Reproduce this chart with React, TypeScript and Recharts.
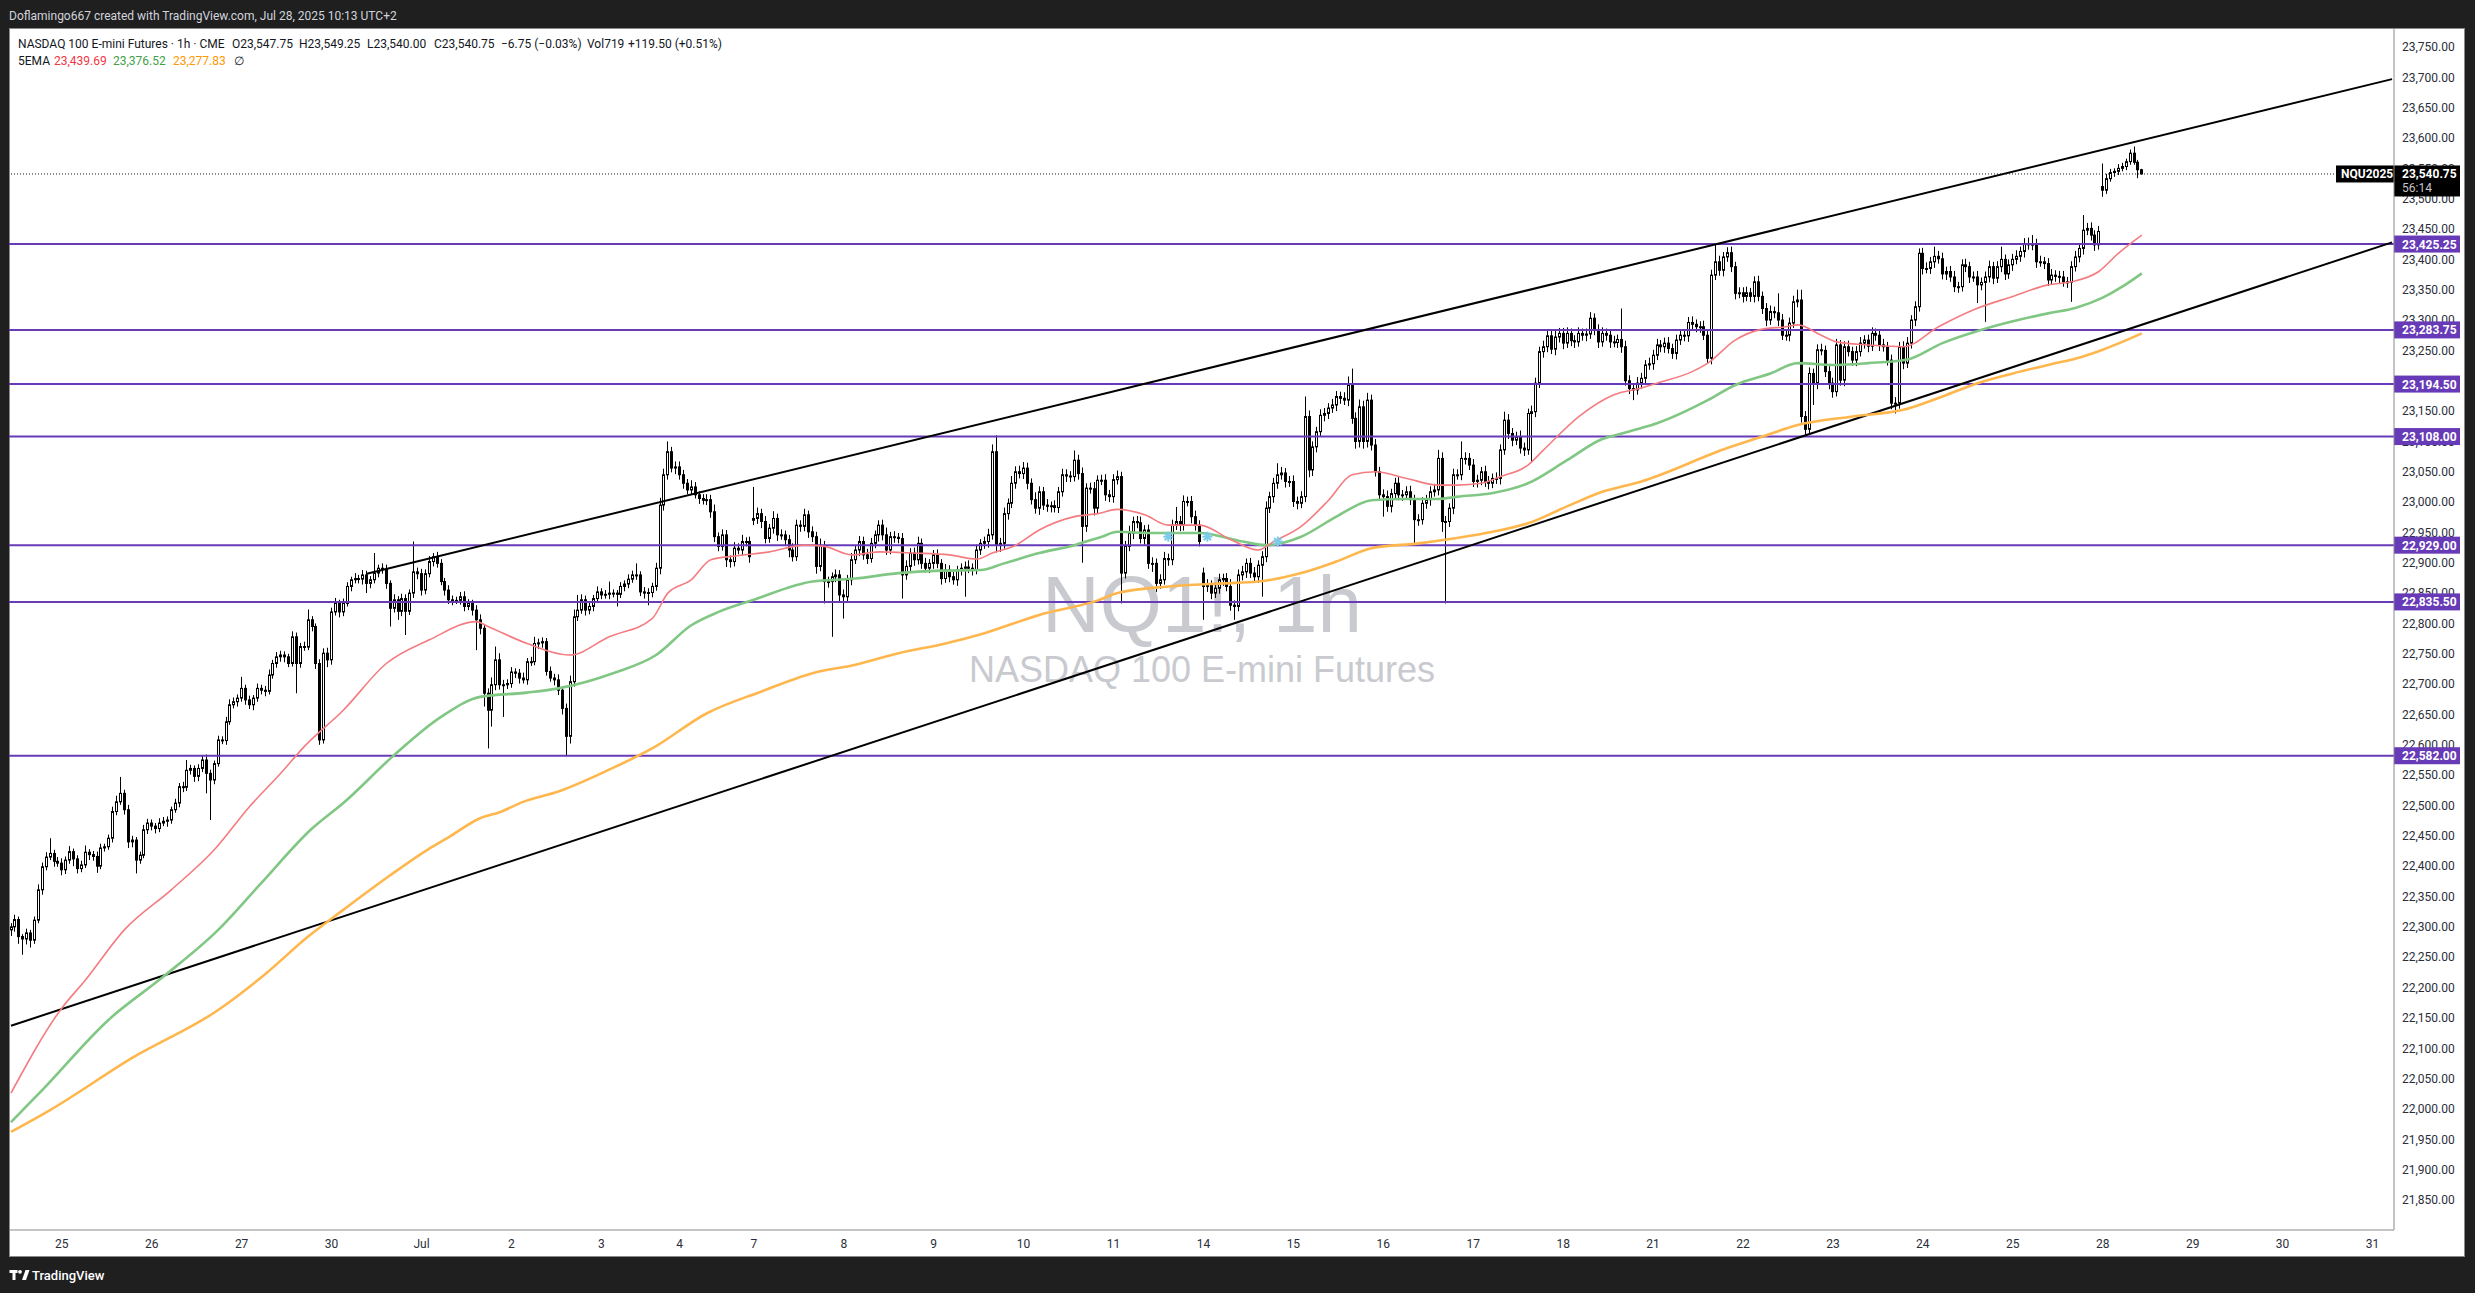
import React from 'react';
import { ComposedChart, Bar, Line, XAxis, YAxis, ReferenceLine } from 'recharts';

const W = 2475;
const H = 1293;
const SLOTS = 610;
const PURPLE = '#673ab7';

// trading-day labels on the time axis and the bar index where each day starts
const DAY_LABELS = ['25', '26', '27', '30', 'Jul', '2', '3', '4', '7', '8', '9', '10', '11', '14', '15', '16', '17', '18', '21', '22', '23', '24', '25', '28', '29', '30', '31'];
const DAY_START = [13, 36, 59, 82, 105, 128, 151, 171, 190, 213, 236, 259, 282, 305, 328, 351, 374, 397, 420, 443, 466, 489, 512, 535, 558, 581, 604];

const Y_TICKS = [21850, 21900, 21950, 22000, 22050, 22100, 22150, 22200, 22250, 22300, 22350, 22400, 22450, 22500, 22550, 22600, 22650, 22700, 22750, 22800, 22850, 22900, 22950, 23000, 23050, 23100, 23150, 23200, 23250, 23300, 23350, 23400, 23450, 23500, 23550, 23600, 23650, 23700, 23750];

// hourly closes, one line per session
const CLOSE: number[] = [
  22300, 22312, 22284, 22280, 22290, 22278, 22311, 22361, 22399, 22415, 22421, 22408, 22405,
  22394, 22410, 22424, 22412, 22396, 22402, 22423, 22419, 22416, 22400, 22430, 22432, 22446, 22490, 22506, 22520, 22493, 22440, 22443, 22410, 22418, 22460, 22471,
  22466, 22462, 22471, 22474, 22476, 22493, 22504, 22531, 22530, 22558, 22561, 22548, 22561, 22575, 22553, 22542, 22569, 22608, 22607, 22638, 22666, 22671, 22677,
  22693, 22674, 22666, 22677, 22693, 22690, 22688, 22715, 22734, 22745, 22748, 22745, 22734, 22778, 22734, 22762, 22761, 22806, 22795, 22734, 22608, 22751, 22740,
  22819, 22833, 22819, 22833, 22861, 22872, 22874, 22873, 22880, 22866, 22872, 22883, 22891, 22890, 22866, 22825, 22839, 22820, 22841, 22820, 22850, 22885, 22882,
  22855, 22882, 22902, 22910, 22899, 22869, 22855, 22839, 22838, 22838, 22844, 22828, 22833, 22822, 22806, 22792, 22685, 22657, 22699, 22740, 22699, 22699, 22701,
  22720, 22718, 22710, 22707, 22737, 22737, 22767, 22768, 22770, 22721, 22710, 22707, 22690, 22660, 22614, 22704, 22811, 22822, 22839, 22822, 22828, 22841, 22852,
  22847, 22848, 22850, 22850, 22848, 22861, 22865, 22873, 22880, 22880, 22852, 22850, 22851, 22861, 22891, 22995, 23045, 23083, 23056, 23058,
  23045, 23031, 23020, 23025, 23012, 23006, 23003, 23004, 22984, 22943, 22927, 22946, 22905, 22902, 22924, 22921, 22935, 22935, 22910,
  22973, 22981, 22968, 22940, 22957, 22973, 22946, 22946, 22938, 22921, 22910, 22962, 22960, 22979, 22951, 22943, 22894, 22927, 22869, 22869, 22877, 22880, 22847,
  22844, 22872, 22905, 22921, 22935, 22913, 22907, 22932, 22946, 22962, 22946, 22921, 22943, 22942, 22940, 22880, 22894, 22916, 22905, 22932, 22899, 22891, 22899,
  22913, 22899, 22874, 22888, 22877, 22872, 22888, 22891, 22893, 22891, 22888, 22921, 22932, 22935, 22946, 23083, 22929, 22932, 22981, 22998, 23031, 23050, 23047,
  23056, 23031, 23004, 22990, 23017, 22995, 22993, 22994, 22991, 23017, 23045, 23043, 23042, 23069, 23047, 22960, 23023, 23022, 22990, 23036, 23036, 23012, 23009,
  23037, 23042, 22883, 22927, 22949, 22968, 22966, 22940, 22954, 22899, 22899, 22866, 22872, 22907, 22905, 22962, 22968, 22962, 23001, 23001, 22976, 22962, 22935,
  22861, 22863, 22850, 22858, 22872, 22874, 22861, 22830, 22828, 22880, 22885, 22899, 22883, 22877, 22896, 22910, 22990, 23009, 23031, 23045, 23048, 23034, 23034,
  23001, 22998, 23009, 23141, 23053, 23091, 23116, 23143, 23146, 23155, 23160, 23174, 23171, 23168, 23193, 23138, 23100, 23157, 23100, 23168, 23094, 23050, 23012,
  23009, 22993, 23014, 23031, 23012, 23012, 23017, 23004, 22971, 22971, 22998, 23004, 23017, 23020, 23072, 22968, 22968, 22990, 23045, 23045, 23072, 23072, 23061,
  23034, 23036, 23050, 23034, 23031, 23039, 23039, 23086, 23135, 23113, 23102, 23108, 23089, 23086, 23146, 23149, 23196, 23248, 23256, 23274, 23252, 23272, 23278,
  23262, 23278, 23266, 23264, 23278, 23275, 23277, 23303, 23284, 23264, 23278, 23275, 23264, 23263, 23268, 23256, 23200, 23187, 23185, 23196, 23204, 23226, 23228,
  23242, 23259, 23256, 23262, 23253, 23245, 23267, 23275, 23274, 23296, 23293, 23289, 23289, 23275, 23237, 23374, 23396, 23382, 23404, 23411, 23388, 23344, 23345,
  23339, 23345, 23339, 23363, 23339, 23319, 23300, 23314, 23312, 23300, 23275, 23275, 23295, 23330, 23333, 23141, 23120, 23212, 23196, 23251, 23250, 23215, 23196,
  23182, 23259, 23201, 23256, 23248, 23234, 23248, 23262, 23267, 23257, 23278, 23275, 23259, 23256, 23234, 23163, 23163, 23256, 23229, 23262, 23300, 23322, 23410,
  23385, 23385, 23396, 23405, 23401, 23376, 23380, 23371, 23355, 23355, 23391, 23388, 23371, 23371, 23358, 23362, 23371, 23388, 23369, 23388, 23400, 23376, 23391,
  23400, 23405, 23413, 23426, 23424, 23425, 23396, 23396, 23393, 23366, 23374, 23372, 23371, 23363, 23362, 23388, 23404, 23418, 23448, 23451, 23440, 23424, 23446,
  23514, 23533, 23543, 23545, 23550, 23553, 23561, 23575, 23560, 23547.75, 23540.75,
];

// upper wick (points above the body) per bar
const WICK_UP: number[] = [
  6, 8, 5, 4, 7, 5, 6, 9, 7, 8, 25, 6, 7,
  8, 6, 9, 5, 6, 7, 11, 5, 6, 8, 7, 5, 6, 8, 10, 27, 6, 8, 7, 5, 6, 8, 7,
  6, 5, 8, 7, 6, 5, 7, 6, 8, 17, 6, 5, 7, 8, 9, 6, 5, 7, 6, 8, 9, 7, 6,
  19, 6, 7, 5, 8, 6, 7, 9, 6, 8, 7, 6, 5, 9, 7, 6, 8, 17, 6, 5, 7, 8, 9,
  7, 9, 6, 8, 7, 5, 9, 6, 8, 7, 6, 33, 6, 8, 7, 5, 9, 6, 8, 7, 6, 50, 7,
  8, 7, 9, 6, 8, 7, 6, 8, 7, 6, 8, 9, 7, 6, 8, 9, 7, 8, 12, 22, 11, 8, 7,
  8, 6, 7, 9, 6, 8, 11, 7, 7, 6, 8, 7, 9, 6, 8, 10, 12, 25, 9, 7, 8, 6, 9,
  6, 7, 19, 6, 5, 7, 6, 8, 7, 19, 6, 8, 7, 6, 9, 12, 10, 17, 8, 9,
  9, 8, 7, 11, 8, 6, 7, 9, 8, 12, 7, 9, 8, 7, 10, 8, 11, 7, 8,
  52, 10, 8, 9, 7, 12, 8, 9, 7, 8, 11, 9, 8, 10, 7, 9, 8, 13, 9, 8, 7, 9, 8,
  9, 8, 11, 7, 9, 8, 10, 9, 7, 8, 9, 12, 8, 9, 7, 9, 10, 8, 9, 11, 8, 9, 7,
  8, 9, 7, 10, 8, 9, 7, 8, 9, 11, 8, 9, 7, 8, 10, 12, 27, 9, 10, 8, 12, 9, 10,
  10, 9, 8, 12, 9, 8, 10, 7, 9, 8, 10, 9, 8, 16, 9, 10, 8, 9, 11, 8, 9, 10, 8,
  9, 10, 8, 9, 12, 8, 9, 10, 8, 9, 10, 8, 9, 11, 8, 9, 24, 9, 10, 8, 9, 10, 8,
  9, 10, 8, 9, 10, 8, 9, 12, 8, 9, 10, 8, 9, 10, 8, 9, 11, 8, 9, 19, 10, 8, 9,
  10, 8, 9, 33, 10, 9, 8, 10, 9, 8, 10, 9, 8, 10, 14, 27, 10, 12, 10, 12, 9, 10, 8,
  9, 10, 8, 9, 10, 8, 9, 10, 8, 9, 10, 8, 9, 10, 14, 10, 9, 8, 10, 9, 28, 10, 9,
  10, 9, 8, 10, 9, 8, 10, 9, 14, 10, 9, 8, 10, 9, 8, 10, 9, 8, 10, 9, 8, 10, 9,
  9, 10, 8, 9, 10, 8, 9, 10, 8, 9, 10, 8, 9, 10, 8, 51, 10, 9, 8, 10, 9, 8, 10,
  9, 10, 8, 9, 10, 8, 9, 10, 8, 9, 10, 8, 9, 10, 8, 9, 30, 10, 8, 9, 10, 8, 9,
  9, 10, 8, 9, 10, 8, 9, 10, 8, 32, 10, 8, 9, 10, 17, 17, 9, 10, 8, 9, 10, 8, 9,
  9, 10, 8, 9, 10, 8, 9, 10, 8, 9, 10, 8, 9, 10, 8, 9, 10, 8, 9, 10, 8, 9, 8,
  9, 10, 8, 16, 9, 10, 8, 9, 10, 8, 9, 10, 8, 9, 10, 8, 9, 10, 8, 9, 21, 8, 9,
  9, 10, 8, 9, 10, 15, 9, 10, 8, 9, 10, 8, 9, 10, 8, 9, 10, 8, 25, 9, 10, 8, 9,
  38, 8, 6, 5, 7, 6, 5, 6, 11, 4, 1.5,
];

// lower wick (points below the body) per bar
const WICK_DN: number[] = [
  10, 8, 12, 26, 9, 12, 6, 5, 8, 6, 5, 9, 6,
  9, 7, 6, 12, 8, 6, 5, 9, 7, 11, 5, 6, 5, 7, 6, 5, 8, 10, 9, 22, 6, 5, 7,
  7, 8, 6, 5, 9, 6, 5, 7, 8, 6, 7, 9, 8, 6, 33, 66, 7, 5, 6, 7, 5, 6, 8,
  6, 8, 7, 9, 6, 7, 8, 5, 6, 7, 8, 9, 6, 5, 49, 7, 6, 5, 8, 9, 8, 6, 12,
  8, 6, 9, 7, 5, 8, 6, 7, 9, 16, 8, 6, 7, 8, 9, 30, 7, 14, 8, 39, 6, 8, 9,
  9, 7, 6, 8, 7, 6, 9, 7, 8, 6, 7, 8, 6, 9, 50, 10, 22, 63, 27, 9, 8, 53, 7,
  7, 8, 9, 6, 8, 7, 6, 9, 8, 7, 6, 9, 8, 10, 33, 12, 8, 7, 6, 9, 7, 8, 6,
  7, 6, 8, 7, 20, 6, 8, 7, 6, 8, 7, 9, 20, 8, 7, 10, 9, 8, 7, 10,
  8, 9, 7, 8, 6, 9, 7, 8, 10, 9, 8, 7, 12, 10, 8, 7, 9, 8, 10,
  8, 9, 11, 8, 7, 9, 10, 8, 9, 12, 8, 7, 9, 8, 10, 9, 12, 8, 36, 10, 91, 9, 10,
  36, 8, 9, 7, 10, 8, 9, 7, 8, 11, 9, 8, 7, 9, 8, 39, 8, 9, 10, 8, 9, 7, 8,
  9, 8, 10, 7, 9, 8, 10, 9, 47, 8, 9, 7, 8, 9, 10, 8, 12, 11, 9, 10, 8, 9, 8,
  9, 10, 8, 9, 11, 8, 9, 10, 8, 9, 8, 10, 9, 8, 10, 60, 9, 8, 12, 9, 8, 10, 9,
  10, 8, 50, 9, 8, 10, 9, 8, 10, 9, 14, 14, 9, 8, 10, 9, 8, 10, 9, 8, 11, 9, 8,
  55, 9, 10, 8, 9, 10, 8, 9, 22, 8, 9, 10, 8, 9, 10, 52, 9, 8, 10, 9, 8, 10, 9,
  9, 10, 8, 9, 12, 10, 9, 8, 10, 9, 8, 10, 9, 8, 10, 9, 12, 10, 12, 10, 9, 8, 10,
  33, 9, 10, 8, 9, 10, 8, 9, 42, 10, 8, 9, 10, 8, 9, 17, 135, 9, 10, 8, 9, 10, 8,
  9, 10, 8, 9, 10, 8, 9, 10, 8, 9, 10, 8, 9, 10, 8, 79, 9, 8, 10, 9, 8, 10, 9,
  10, 8, 9, 10, 8, 9, 10, 8, 9, 10, 8, 9, 10, 8, 9, 10, 8, 9, 17, 8, 9, 10, 8,
  10, 8, 9, 10, 8, 9, 10, 8, 9, 10, 8, 9, 10, 8, 9, 10, 8, 9, 10, 8, 9, 10, 8,
  10, 8, 9, 10, 8, 9, 10, 8, 9, 10, 8, 9, 10, 8, 9, 10, 10, 9, 36, 10, 8, 9, 10,
  10, 8, 9, 10, 8, 9, 10, 8, 9, 10, 8, 9, 10, 8, 9, 10, 17, 9, 10, 8, 9, 10, 8,
  10, 8, 9, 10, 8, 9, 10, 8, 9, 10, 8, 9, 10, 8, 30, 9, 65, 9, 10, 8, 9, 10, 8,
  10, 8, 9, 10, 8, 9, 10, 8, 9, 10, 8, 9, 10, 8, 9, 32, 8, 9, 10, 8, 9, 10, 8,
  11, 6, 5, 7, 6, 5, 6, 5, 4, 14, 0.75,
];

// session opens that gap away from the previous close
const OPEN_GAPS: [number, number][] = [[0, 22295], [190, 22970], [305, 22883], [535, 23520]];

// EMA lines: [bar, value]
const EMA_FAST: [number, number][] = [[0, 22026], [13, 22166], [19, 22212], [29, 22295], [41, 22361], [52, 22427], [61, 22498], [69, 22553], [75, 22597], [85, 22657], [96, 22734], [107, 22773], [119, 22803], [122, 22795], [132, 22767], [143, 22748], [153, 22778], [164, 22808], [168, 22850], [174, 22872], [179, 22905], [185, 22911], [194, 22918], [203, 22929], [208, 22927], [215, 22913], [222, 22918], [231, 22916], [240, 22913], [247, 22906], [251, 22916], [257, 22929], [263, 22954], [272, 22976], [278, 22981], [283, 22988], [290, 22979], [296, 22962], [304, 22962], [312, 22938], [319, 22921], [323, 22935], [330, 22960], [337, 23003], [343, 23045], [349, 23050], [357, 23039], [365, 23028], [370, 23028], [376, 23031], [381, 23042], [388, 23061], [392, 23086], [401, 23141], [410, 23177], [417, 23188], [421, 23196], [430, 23215], [434, 23229], [441, 23267], [448, 23285], [454, 23289], [457, 23292], [463, 23275], [467, 23264], [475, 23259], [484, 23256], [493, 23289], [502, 23317], [512, 23339], [521, 23358], [527, 23363], [534, 23380], [539, 23410], [545, 23440]];
const EMA_MID: [number, number][] = [[0, 21978], [3, 21998], [8, 22031], [25, 22147], [39, 22218], [53, 22295], [64, 22372], [77, 22462], [85, 22504], [98, 22583], [110, 22646], [120, 22679], [132, 22686], [140, 22693], [154, 22718], [165, 22748], [174, 22797], [181, 22819], [190, 22839], [205, 22869], [216, 22874], [227, 22883], [238, 22887], [248, 22888], [254, 22899], [263, 22916], [272, 22929], [279, 22943], [283, 22951], [292, 22949], [304, 22949], [315, 22935], [321, 22929], [330, 22943], [339, 22976], [348, 23003], [356, 23005], [365, 23005], [370, 23009], [379, 23015], [388, 23031], [398, 23069], [407, 23104], [412, 23113], [417, 23122], [421, 23130], [434, 23168], [441, 23193], [450, 23212], [457, 23229], [466, 23226], [475, 23229], [485, 23235], [494, 23262], [503, 23282], [512, 23298], [521, 23311], [528, 23320], [535, 23337], [540, 23355], [545, 23377]];
const EMA_SLOW: [number, number][] = [[0, 21962], [10, 21998], [31, 22084], [53, 22163], [65, 22222], [76, 22284], [85, 22328], [97, 22385], [107, 22429], [112, 22448], [120, 22479], [125, 22489], [131, 22506], [140, 22523], [153, 22559], [164, 22594], [178, 22652], [192, 22688], [205, 22718], [216, 22732], [227, 22751], [239, 22767], [249, 22784], [263, 22814], [278, 22838], [283, 22850], [296, 22861], [310, 22866], [319, 22869], [330, 22883], [339, 22902], [348, 22924], [360, 22932], [369, 22940], [379, 22951], [388, 22965], [398, 22993], [407, 23017], [417, 23034], [439, 23089], [448, 23108], [457, 23127], [471, 23141], [484, 23152], [494, 23174], [503, 23196], [512, 23212], [521, 23226], [530, 23240], [535, 23251], [545, 23278]];

const CROSS_MARKS: [number, number][] = [[296, 22943], [306, 22943], [324, 22935]];

const LEVELS = [23425.25, 23283.75, 23194.5, 23108, 22929, 22835.5, 22582];
const LAST_PRICE = 23540.75;
const UPPER_LINE: [number, number][] = [[91, 22882], [609, 23697]];
const LOWER_LINE: [number, number][] = [[0, 22137], [609, 23428]];

const fmt = (v: number) => v.toLocaleString('en-US', { minimumFractionDigits: 2, maximumFractionDigits: 2 });
const UI_FONT = 'Roboto, "Noto Sans", sans-serif';

function buildRows() {
  const gaps = new Map(OPEN_GAPS);
  const rows: any[] = [];
  for (let i = 0; i < SLOTS; i++) rows.push({ i });
  for (let i = 0; i < CLOSE.length; i++) {
    const c = CLOSE[i];
    const o = gaps.has(i) ? (gaps.get(i) as number) : CLOSE[i - 1];
    const h = Math.max(o, c) + (WICK_UP[i] ?? 0);
    const l = Math.min(o, c) - (WICK_DN[i] ?? 0);
    Object.assign(rows[i], { o, h, l, c, range: [l, h] });
  }
  EMA_FAST.forEach(([b, v]) => { rows[b].fast = v; });
  EMA_MID.forEach(([b, v]) => { rows[b].mid = v; });
  EMA_SLOW.forEach(([b, v]) => { rows[b].slow = v; });
  CROSS_MARKS.forEach(([b, v]) => { rows[b].cross = v; });
  return rows;
}

const Candle = (props: any) => {
  const { x, y, width, height, payload } = props;
  if (!payload || payload.o == null || x == null) return <g />;
  const { o, h, l, c } = payload;
  const top = Math.min(y, y + height);
  const hh = Math.abs(height);
  const k = h - l > 0 ? hh / (h - l) : 0;
  const yO = top + (h - o) * k;
  const yC = top + (h - c) * k;
  const cx = Math.round(x + width / 2) + 0.5;
  const bTop = Math.min(yO, yC);
  const bH = Math.max(Math.abs(yO - yC), 1);
  const up = c >= o;
  return (
    <g>
      <line x1={cx} x2={cx} y1={top} y2={top + hh} stroke="#000" strokeWidth={1} />
      <rect x={cx - 1} y={bTop} width={2} height={bH} fill={up ? '#fff' : '#000'} stroke="#000" strokeWidth={1} />
    </g>
  );
};

const CrossDot = (props: any) => {
  const { cx, cy, payload } = props;
  if (cx == null || cy == null || payload == null || payload.cross == null) return <g />;
  const r = 5;
  const d = 3.6;
  return (
    <g stroke="#7ccbea" strokeWidth={2}>
      <line x1={cx - r} x2={cx + r} y1={cy} y2={cy} />
      <line x1={cx} x2={cx} y1={cy - r} y2={cy + r} />
      <line x1={cx - d} x2={cx + d} y1={cy - d} y2={cy + d} />
      <line x1={cx - d} x2={cx + d} y1={cy + d} y2={cy - d} />
    </g>
  );
};

// price-scale tick text, drawn in the same layer as the tags so the tags cover it
const TickLabel = (props: any) => {
  const vb = props.viewBox || {};
  const x = (vb.x || 0) + (vb.width || 0);
  const y = vb.y || 0;
  return (
    <text x={x + 8} y={y + 4.3} fill="#2a2e39" fontSize={12} fontFamily={UI_FONT}>{fmt(props.value)}</text>
  );
};

const LevelTag = (props: any) => {
  const vb = props.viewBox || {};
  const x = (vb.x || 0) + (vb.width || 0);
  const y = vb.y || 0;
  return (
    <g>
      <rect x={x} y={y - 8.5} width={66} height={17} fill={PURPLE} />
      <text x={x + 8} y={y + 4.5} fill="#fff" fontSize={12} fontWeight={700} fontFamily={UI_FONT}>{fmt(props.value)}</text>
    </g>
  );
};

const PriceTag = (props: any) => {
  const vb = props.viewBox || {};
  const x = (vb.x || 0) + (vb.width || 0);
  const y = vb.y || 0;
  return (
    <g>
      <rect x={x - 58} y={y - 8.5} width={58} height={17} fill="#000" />
      <text x={x - 53} y={y + 4.5} fill="#fff" fontSize={12} fontWeight={700} fontFamily={UI_FONT}>NQU2025</text>
      <rect x={x} y={y - 8.5} width={66} height={31} fill="#000" />
      <text x={x + 8} y={y + 4.5} fill="#fff" fontSize={12} fontWeight={700} fontFamily={UI_FONT}>{fmt(LAST_PRICE)}</text>
      <text x={x + 8} y={y + 18.5} fill="#c4c4c4" fontSize={12} fontFamily={UI_FONT}>56:14</text>
    </g>
  );
};

export default function App() {
  const rows = buildRows();
  const labelOf = new Map(DAY_START.map((b, k) => [b, DAY_LABELS[k]]));
  return (
    <div style={{ position: 'absolute', left: 0, top: 0, width: W, height: H, background: '#1f1f1f', overflow: 'hidden' }}>
      <svg width={W} height={H} style={{ position: 'absolute', left: 0, top: 0 }}>
        <rect x={9.5} y={28.5} width={2455} height={1228} fill="#fff" stroke="#8a8a8a" strokeWidth={1} />
        <text x={1202} y={632} textAnchor="middle" fontSize={80} fill="#c9cacf" fontFamily='"Liberation Sans", Arial, sans-serif'>NQ1!, 1h</text>
        <text x={1202} y={682} textAnchor="middle" fontSize={36} fill="#c9cacf" fontFamily='"Liberation Sans", Arial, sans-serif'>NASDAQ 100 E-mini Futures</text>
        <text x={9} y={19.5} fill="#d1d4dc" fontSize={12} fontFamily={UI_FONT}>Doflamingo667 created with TradingView.com, Jul 28, 2025 10:13 UTC+2</text>
        <g fontSize={12} fontFamily={UI_FONT} fill="#131722">
          <text x={18} y={47.5}>NASDAQ 100 E-mini Futures · 1h · CME</text>
          <text x={232} y={47.5}>O23,547.75</text>
          <text x={299} y={47.5}>H23,549.25</text>
          <text x={367} y={47.5}>L23,540.00</text>
          <text x={434} y={47.5}>C23,540.75</text>
          <text x={501} y={47.5}>−6.75 (−0.03%)</text>
          <text x={587} y={47.5}>Vol719</text>
          <text x={628} y={47.5}>+119.50 (+0.51%)</text>
          <text x={18} y={64.5}>5EMA</text>
          <text x={54} y={64.5} fill="#f23645">23,439.69</text>
          <text x={113} y={64.5} fill="#43a047">23,376.52</text>
          <text x={173} y={64.5} fill="#ff9800">23,277.83</text>
          <text x={234} y={64.5}>∅</text>
        </g>
        <g fill="#ffffff">
          <rect x={9.5} y={1270} width={8} height={3} />
          <rect x={12.5} y={1270} width={3} height={10} />
          <circle cx={20} cy={1271.8} r={1.9} />
          <polygon points="22,1280 25.5,1270 29.5,1270 26,1280" />
        </g>
        <text x={32} y={1279.5} fill="#ffffff" fontSize={13} fontFamily={UI_FONT} fontWeight={500}>TradingView</text>
      </svg>
      <div style={{ position: 'absolute', left: 0, top: 0 }}>
        <ComposedChart width={W} height={H} data={rows} margin={{ top: 28, right: 10, bottom: 36, left: 9 }}>
          <XAxis
            dataKey="i"
            type="category"
            ticks={DAY_START}
            interval={0}
            tickFormatter={(v: any) => labelOf.get(Number(v)) ?? ''}
            tickSize={0}
            tickMargin={9}
            tickLine={false}
            axisLine={{ stroke: '#8a8a8a' }}
            tick={{ fill: '#2a2e39', fontSize: 12, fontFamily: UI_FONT }}
            height={27}
          />
          <YAxis
            orientation="right"
            type="number"
            domain={[21800.4, 23781.3]}
            allowDataOverflow
            ticks={Y_TICKS}
            width={71}
            tick={false}
            tickLine={false}
            axisLine={{ stroke: '#8a8a8a' }}
          />
          {Y_TICKS.map((t) => (
            <ReferenceLine key={`t${t}`} y={t} stroke="none" label={(p: any) => <TickLabel {...p} value={t} />} />
          ))}
          {LEVELS.map((lv) => (
            <ReferenceLine key={lv} y={lv} stroke={PURPLE} strokeWidth={2} label={(p: any) => <LevelTag {...p} value={lv} />} />
          ))}
          <ReferenceLine segment={[{ x: UPPER_LINE[0][0], y: UPPER_LINE[0][1] }, { x: UPPER_LINE[1][0], y: UPPER_LINE[1][1] }]} stroke="#000" strokeWidth={2} />
          <ReferenceLine segment={[{ x: LOWER_LINE[0][0], y: LOWER_LINE[0][1] }, { x: LOWER_LINE[1][0], y: LOWER_LINE[1][1] }]} stroke="#000" strokeWidth={2} />
          <Bar dataKey="range" shape={(p: any) => <Candle {...p} />} barSize={3} isAnimationActive={false} />
          <Line dataKey="slow" type="monotone" stroke="#ffb74d" strokeWidth={2.6} dot={false} connectNulls isAnimationActive={false} />
          <Line dataKey="mid" type="monotone" stroke="#81c784" strokeWidth={2.6} dot={false} connectNulls isAnimationActive={false} />
          <Line dataKey="fast" type="monotone" stroke="#f47c81" strokeWidth={1.6} dot={false} connectNulls isAnimationActive={false} />
          <Line dataKey="cross" stroke="none" dot={(p: any) => <CrossDot key={`c${p.index}`} {...p} />} isAnimationActive={false} />
          <ReferenceLine y={LAST_PRICE} stroke="#131722" strokeWidth={1} strokeDasharray="1 2" label={(p: any) => <PriceTag {...p} />} />
        </ComposedChart>
      </div>
    </div>
  );
}
